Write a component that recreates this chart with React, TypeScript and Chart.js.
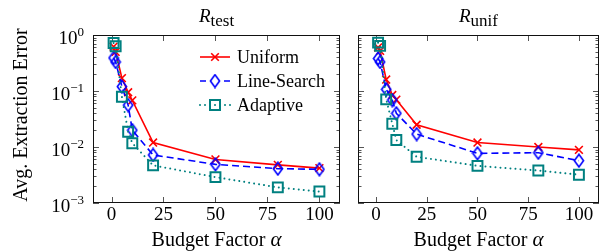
import React, { useEffect, useRef } from "react";
import { Chart, registerables } from "chart.js";

Chart.register(...registerables);

// ---- data ----
const alphas = [1, 2, 5, 8, 10, 20, 50, 80, 100];
const xTicks = [0, 25, 50, 75, 100];
const yMajorExp = [0, -1, -2, -3];
const seriesNames = ["Uniform", "Line-Search", "Adaptive"];

const testUniform = [0.62, 0.5, 0.17, 0.095, 0.068, 0.012, 0.006, 0.0048, 0.0042];
const testLineSearch = [0.39, 0.33, 0.12, 0.056, 0.02, 0.0072, 0.0049, 0.0041, 0.004];
const testAdaptive = [0.72, 0.63, 0.079, 0.0187, 0.0117, 0.0047, 0.0029, 0.0019, 0.0016];

const unifUniform = [0.6, 0.52, 0.16, 0.085, 0.07, 0.025, 0.012, 0.01, 0.0089];
const unifLineSearch = [0.38, 0.33, 0.107, 0.069, 0.04, 0.017, 0.0077, 0.0079, 0.0057];
const unifAdaptive = [0.73, 0.64, 0.071, 0.026, 0.0133, 0.0067, 0.0046, 0.0038, 0.0032];

const FONT = '"Liberation Serif", "Times New Roman", serif';
const RED = "#ff0000";
const BLUE = "#0000ff";
const TEAL = "#008080";

function makeDiamond(): HTMLCanvasElement {
  const c = document.createElement("canvas");
  c.width = 12;
  c.height = 15;
  const g = c.getContext("2d")!;
  g.strokeStyle = BLUE;
  g.lineWidth = 1.6;
  g.beginPath();
  g.moveTo(6, 1.2);
  g.lineTo(10.6, 7.5);
  g.lineTo(6, 13.8);
  g.lineTo(1.4, 7.5);
  g.closePath();
  g.stroke();
  return c;
}

type PanelProps = {
  left: number;
  width: number;
  padding: { left: number; right: number; top: number; bottom: number };
  sub: string;
  showY: boolean;
  showLegend: boolean;
  uniform: number[];
  lineSearch: number[];
  adaptive: number[];
};

function pts(vals: number[]) {
  return alphas.map((a, i) => ({ x: a, y: vals[i] }));
}

function Panel(p: PanelProps) {
  const ref = useRef<HTMLCanvasElement>(null);
  useEffect(() => {
    const canvas = ref.current!;
    const diamond = makeDiamond();

    const decor = {
      id: "decor",
      beforeDatasetsDraw(chart: any) {
        const ctx = chart.ctx;
        const a = chart.chartArea;
        const xs = chart.scales.x;
        const ys = chart.scales.y;
        ctx.save();
        ctx.strokeStyle = "#555";
        ctx.lineWidth = 1;
        ctx.beginPath();
        for (const t of xTicks) {
          const x = Math.round(xs.getPixelForValue(t)) + 0.5;
          ctx.moveTo(x, a.bottom);
          ctx.lineTo(x, a.bottom - 6);
          ctx.moveTo(x, a.top);
          ctx.lineTo(x, a.top + 6);
        }
        for (const e of yMajorExp) {
          for (let m = 1; m <= 9; m++) {
            const v = m * Math.pow(10, e);
            if (v > 1.0000001 || v < 0.000999) continue;
            const y = Math.round(ys.getPixelForValue(v)) + 0.5;
            const len = m === 1 ? 6 : 3.5;
            ctx.moveTo(a.left, y);
            ctx.lineTo(a.left + len, y);
            ctx.moveTo(a.right, y);
            ctx.lineTo(a.right - len, y);
          }
        }
        ctx.stroke();
        ctx.restore();
      },
      afterDatasetsDraw(chart: any) {
        const ctx = chart.ctx;
        const a = chart.chartArea;
        const xs = chart.scales.x;
        const ys = chart.scales.y;
        ctx.save();
        // frame
        ctx.strokeStyle = "#111";
        ctx.lineWidth = 1;
        ctx.strokeRect(
          Math.round(a.left) + 0.5,
          Math.round(a.top) + 0.5,
          Math.round(a.right - a.left) - 1,
          Math.round(a.bottom - a.top) - 1
        );
        ctx.fillStyle = "#000";
        // x tick labels
        ctx.font = `19px ${FONT}`;
        ctx.textAlign = "center";
        ctx.textBaseline = "alphabetic";
        for (const t of xTicks) {
          ctx.fillText(String(t), xs.getPixelForValue(t), a.bottom + 17);
        }
        // x title
        const cx = (a.left + a.right) / 2;
        ctx.font = `20px ${FONT}`;
        const t1 = "Budget Factor ";
        ctx.font = `20px ${FONT}`;
        const w1 = ctx.measureText(t1).width;
        ctx.font = `italic 21px ${FONT}`;
        const w2 = ctx.measureText("α").width;
        let sx = cx - (w1 + w2) / 2;
        ctx.textAlign = "left";
        ctx.font = `20px ${FONT}`;
        ctx.fillText(t1, sx, a.bottom + 43);
        ctx.font = `italic 21px ${FONT}`;
        ctx.fillText("α", sx + w1, a.bottom + 43);
        // panel title
        ctx.font = `italic 19px ${FONT}`;
        const rw = ctx.measureText("R").width;
        ctx.font = `17px ${FONT}`;
        const sw = ctx.measureText(p.sub).width;
        sx = cx - (rw + sw) / 2;
        ctx.font = `italic 19px ${FONT}`;
        ctx.fillText("R", sx, a.top - 13);
        ctx.font = `17px ${FONT}`;
        ctx.fillText(p.sub, sx + rw, a.top - 9.5);
        // y labels
        if (p.showY) {
          for (const e of yMajorExp) {
            const y = ys.getPixelForValue(Math.pow(10, e));
            const exp = e === 0 ? "0" : "\u2212" + String(-e);
            ctx.font = `13px ${FONT}`;
            const ew = ctx.measureText(exp).width;
            const right = a.left - 9;
            ctx.textAlign = "right";
            ctx.fillText(exp, right, y + 1);
            ctx.font = `19px ${FONT}`;
            ctx.fillText("10", right - ew, y + 9);
          }
          ctx.save();
          ctx.translate(27, (a.top + a.bottom) / 2 - 4);
          ctx.rotate(-Math.PI / 2);
          ctx.textAlign = "center";
          ctx.textBaseline = "alphabetic";
          ctx.font = `20px ${FONT}`;
          ctx.fillText("Avg. Extraction Error", 0, 0);
          ctx.restore();
        }
        // legend
        if (p.showLegend) {
          const rows = [57, 81, 105];
          const x0 = 200;
          const x1 = 230;
          const xm = 215;
          ctx.textAlign = "left";
          ctx.textBaseline = "middle";
          ctx.font = `18px ${FONT}`;
          rows.forEach((ry, i) => {
            ctx.save();
            ctx.lineWidth = 1.6;
            if (i === 0) {
              ctx.strokeStyle = RED;
              ctx.beginPath();
              ctx.moveTo(x0, ry);
              ctx.lineTo(x1, ry);
              ctx.stroke();
              const d = 3.8;
              ctx.beginPath();
              ctx.moveTo(xm - d, ry - d);
              ctx.lineTo(xm + d, ry + d);
              ctx.moveTo(xm - d, ry + d);
              ctx.lineTo(xm + d, ry - d);
              ctx.stroke();
            } else if (i === 1) {
              ctx.strokeStyle = BLUE;
              ctx.beginPath();
              ctx.moveTo(x0, ry);
              ctx.lineTo(x0 + 6, ry);
              ctx.moveTo(x1 - 6, ry);
              ctx.lineTo(x1, ry);
              ctx.stroke();
              ctx.drawImage(diamond, xm - 6, ry - 7.5);
            } else {
              ctx.strokeStyle = TEAL;
              ctx.fillStyle = TEAL;
              for (const dx of [0, 5, 10, 15, 20, 25, 30]) {
                ctx.beginPath();
                ctx.arc(x0 + dx, ry, 1, 0, Math.PI * 2);
                ctx.fill();
              }
              ctx.lineWidth = 2;
              ctx.fillStyle = "#fff";
              ctx.fillRect(xm - 5, ry - 5, 10, 10);
              ctx.strokeRect(xm - 5, ry - 5, 10, 10);
              ctx.fillStyle = TEAL;
              ctx.beginPath();
              ctx.arc(xm, ry, 1, 0, Math.PI * 2);
              ctx.fill();
            }
            ctx.restore();
            ctx.fillStyle = "#000";
            ctx.fillText(seriesNames[i], 237, ry + 1);
          });
        }
        ctx.restore();
      },
    };

    const chart = new Chart(canvas, {
      type: "line",
      data: {
        datasets: [
          {
            label: seriesNames[0],
            data: pts(p.uniform),
            borderColor: RED,
            backgroundColor: RED,
            borderWidth: 1.6,
            pointStyle: "crossRot",
            pointRadius: 5.5,
            pointBorderWidth: 1.6,
            pointBorderColor: RED,
            order: 3,
          },
          {
            label: seriesNames[1],
            data: pts(p.lineSearch),
            borderColor: BLUE,
            backgroundColor: "rgba(0,0,0,0)",
            borderWidth: 1.6,
            borderDash: [7, 4],
            pointStyle: diamond as any,
            pointRadius: 5,
            order: 2,
          },
          {
            label: seriesNames[2],
            data: pts(p.adaptive),
            borderColor: TEAL,
            backgroundColor: "rgba(255,255,255,0)",
            borderWidth: 2,
            borderDash: [0.01, 5],
            borderCapStyle: "round",
            pointStyle: "rect",
            pointRadius: 7,
            pointBorderWidth: 2,
            pointBorderColor: TEAL,
            pointBackgroundColor: "rgba(255,255,255,0)",
            order: 1,
          },
        ],
      },
      options: {
        animation: false,
        responsive: false,
        devicePixelRatio: 1,
        layout: { padding: p.padding },
        parsing: false as any,
        scales: {
          x: { type: "linear", min: -8.9, max: 109.9, display: false },
          y: { type: "logarithmic", min: 0.001, max: 1, display: false },
        },
        plugins: {
          legend: { display: false },
          tooltip: { enabled: false },
        },
      },
      plugins: [decor],
    } as any);
    return () => chart.destroy();
  }, []);
  return (
    <canvas
      ref={ref}
      width={p.width}
      height={252}
      style={{ position: "absolute", left: p.left, top: 0, width: p.width, height: 252 }}
    />
  );
}

export default function App() {
  return (
    <div style={{ position: "absolute", left: 0, top: 0, width: 608, height: 252, background: "#fff" }}>
      <Panel
        left={0}
        width={349}
        padding={{ left: 93, right: 3, top: 35, bottom: 49 }}
        sub="test"
        showY={true}
        showLegend={true}
        uniform={testUniform}
        lineSearch={testLineSearch}
        adaptive={testAdaptive}
      />
      <Panel
        left={349}
        width={259}
        padding={{ left: 3, right: 4, top: 35, bottom: 49 }}
        sub="unif"
        showY={false}
        showLegend={false}
        uniform={unifUniform}
        lineSearch={unifLineSearch}
        adaptive={unifAdaptive}
      />
    </div>
  );
}
